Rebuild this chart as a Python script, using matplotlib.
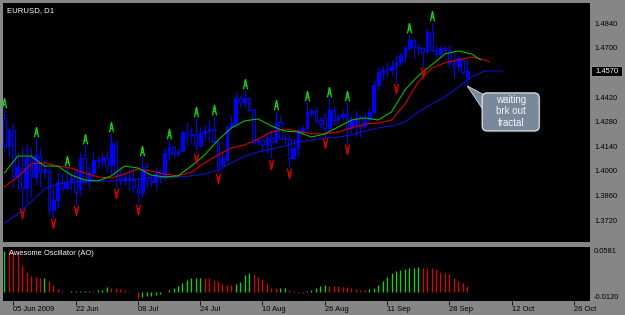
import numpy as np
import matplotlib.pyplot as plt
from matplotlib.path import Path
from matplotlib.markers import MarkerStyle
from matplotlib.patches import FancyBboxPatch, Polygon, Rectangle
from matplotlib.transforms import offset_copy, blended_transform_factory, IdentityTransform

plt.rcParams['font.family'] = ['Liberation Sans', 'DejaVu Sans']

# EURUSD daily bars, 03 Jun 2009 .. 02 Oct 2009 (Sunday bars included)
opens = [1.4302, 1.4142, 1.4233, 1.3972, 1.4017, 1.3903, 1.4080, 1.3966, 1.4091, 1.3994,
         1.4006, 1.3778, 1.3835, 1.3937, 1.3903, 1.3937, 1.3994, 1.3892, 1.4074, 1.3937,
         1.3989, 1.4063, 1.4057, 1.4074, 1.4034, 1.4148, 1.3977, 1.3949, 1.3966, 1.3949,
         1.3909, 1.3875, 1.4006, 1.3949, 1.3937, 1.3989, 1.3972, 1.4097, 1.4137, 1.4097,
         1.4114, 1.4222, 1.4205, 1.4211, 1.4148, 1.4216, 1.4227, 1.4239, 1.4165, 1.4034,
         1.4063, 1.4250, 1.4273, 1.4415, 1.4393, 1.4415, 1.4347, 1.4165, 1.4176, 1.4148,
         1.4193, 1.4165, 1.4279, 1.4188, 1.4182, 1.4074, 1.4131, 1.4222, 1.4245, 1.4330,
         1.4347, 1.4290, 1.4302, 1.4245, 1.4347, 1.4290, 1.4307, 1.4330, 1.4245, 1.4262,
         1.4307, 1.4256, 1.4296, 1.4336, 1.4489, 1.4563, 1.4586, 1.4575, 1.4592, 1.4620,
         1.4654, 1.4700, 1.4745, 1.4706, 1.4700, 1.4677, 1.4791, 1.4689, 1.4666, 1.4700,
         1.4689, 1.4615, 1.4597, 1.4632, 1.4535]
highs = [1.4358, 1.4245, 1.4273, 1.4102, 1.4137, 1.4159, 1.4137, 1.4188, 1.4131, 1.4063,
         1.4023, 1.3909, 1.3994, 1.3989, 1.4023, 1.3994, 1.4006, 1.4108, 1.4148, 1.4034,
         1.4108, 1.4091, 1.4102, 1.4120, 1.4216, 1.4176, 1.4023, 1.3994, 1.4006, 1.4023,
         1.3960, 1.4080, 1.4046, 1.3977, 1.4023, 1.4006, 1.4137, 1.4176, 1.4148, 1.4131,
         1.4233, 1.4279, 1.4250, 1.4302, 1.4250, 1.4262, 1.4290, 1.4313, 1.4176, 1.4120,
         1.4262, 1.4319, 1.4444, 1.4432, 1.4461, 1.4421, 1.4358, 1.4193, 1.4193, 1.4216,
         1.4233, 1.4341, 1.4319, 1.4205, 1.4205, 1.4188, 1.4245, 1.4262, 1.4393, 1.4358,
         1.4364, 1.4307, 1.4336, 1.4415, 1.4370, 1.4330, 1.4347, 1.4393, 1.4319, 1.4347,
         1.4319, 1.4330, 1.4358, 1.4518, 1.4592, 1.4603, 1.4620, 1.4632, 1.4660, 1.4677,
         1.4717, 1.4780, 1.4757, 1.4728, 1.4706, 1.4814, 1.4848, 1.4717, 1.4717, 1.4717,
         1.4717, 1.4671, 1.4660, 1.4649, 1.4632]
lows = [1.4108, 1.4080, 1.3909, 1.3892, 1.3790, 1.3812, 1.3852, 1.3920, 1.3909, 1.3960,
        1.3750, 1.3733, 1.3790, 1.3875, 1.3892, 1.3892, 1.3807, 1.3864, 1.3920, 1.3903,
        1.3949, 1.4017, 1.4023, 1.3994, 1.3977, 1.3909, 1.3920, 1.3920, 1.3892, 1.3875,
        1.3818, 1.3852, 1.3909, 1.3909, 1.3892, 1.3932, 1.3949, 1.4063, 1.4074, 1.4085,
        1.4108, 1.4148, 1.4159, 1.4108, 1.4137, 1.4176, 1.4165, 1.4159, 1.3989, 1.4017,
        1.4051, 1.4233, 1.4250, 1.4364, 1.4358, 1.4336, 1.4154, 1.4148, 1.4108, 1.4102,
        1.4074, 1.4159, 1.4176, 1.4159, 1.4023, 1.4063, 1.4080, 1.4211, 1.4233, 1.4313,
        1.4273, 1.4245, 1.4188, 1.4216, 1.4262, 1.4279, 1.4290, 1.4159, 1.4216, 1.4193,
        1.4193, 1.4245, 1.4279, 1.4319, 1.4461, 1.4518, 1.4535, 1.4546, 1.4501, 1.4603,
        1.4620, 1.4689, 1.4643, 1.4660, 1.4592, 1.4671, 1.4677, 1.4643, 1.4643, 1.4671,
        1.4586, 1.4529, 1.4563, 1.4546, 1.4484]
closes = [1.4142, 1.4233, 1.3972, 1.4023, 1.3903, 1.4080, 1.3966, 1.4091, 1.3994, 1.4011,
          1.3778, 1.3835, 1.3937, 1.3903, 1.3937, 1.3960, 1.3881, 1.4074, 1.3937, 1.3994,
          1.4063, 1.4057, 1.4074, 1.4034, 1.4159, 1.3977, 1.3949, 1.3966, 1.3949, 1.3909,
          1.3875, 1.4023, 1.3949, 1.3937, 1.3989, 1.3972, 1.4102, 1.4137, 1.4097, 1.4114,
          1.4222, 1.4205, 1.4211, 1.4148, 1.4216, 1.4227, 1.4239, 1.4165, 1.4023, 1.4074,
          1.4250, 1.4273, 1.4415, 1.4393, 1.4415, 1.4347, 1.4165, 1.4176, 1.4148, 1.4193,
          1.4165, 1.4279, 1.4188, 1.4182, 1.4074, 1.4131, 1.4233, 1.4245, 1.4336, 1.4341,
          1.4290, 1.4267, 1.4245, 1.4347, 1.4290, 1.4307, 1.4324, 1.4245, 1.4290, 1.4307,
          1.4256, 1.4296, 1.4336, 1.4489, 1.4563, 1.4575, 1.4575, 1.4597, 1.4620, 1.4660,
          1.4700, 1.4745, 1.4706, 1.4700, 1.4677, 1.4791, 1.4689, 1.4666, 1.4700, 1.4689,
          1.4615, 1.4586, 1.4643, 1.4563, 1.4570]

# Alligator lines, read every 3rd bar (shifted forward past the last bar)
jaw_bar = list(range(0, 112, 3)) + [112]
jaw = [1.3704, 1.3755, 1.3824, 1.3898, 1.3926, 1.3937, 1.3940, 1.3943, 1.3943, 1.3946,
       1.3955, 1.3960, 1.3963, 1.3966, 1.3972, 1.3983, 1.4006, 1.4046, 1.4085, 1.4108,
       1.4125, 1.4142, 1.4165, 1.4176, 1.4188, 1.4193, 1.4205, 1.4227, 1.4245, 1.4256,
       1.4279, 1.4336, 1.4381, 1.4421, 1.4478, 1.4535, 1.4569, 1.4569, 1.4569]
teeth_bar = list(range(0, 109, 3)) + [109]
teeth = [1.3909, 1.3966, 1.4040, 1.4046, 1.4028, 1.4017, 1.3989, 1.3966, 1.3960, 1.3983,
         1.4011, 1.4000, 1.3983, 1.3972, 1.3994, 1.4046, 1.4091, 1.4131, 1.4148, 1.4182,
         1.4222, 1.4239, 1.4227, 1.4211, 1.4211, 1.4222, 1.4245, 1.4267, 1.4273, 1.4290,
         1.4381, 1.4507, 1.4586, 1.4615, 1.4632, 1.4649, 1.4632, 1.4620]
lips_bar = list(range(0, 106, 3)) + [107]
lips = [1.3989, 1.4085, 1.4085, 1.4028, 1.4028, 1.3977, 1.3949, 1.3943, 1.3972, 1.4028,
        1.4017, 1.3977, 1.3966, 1.3972, 1.4028, 1.4091, 1.4176, 1.4245, 1.4285, 1.4296,
        1.4256, 1.4227, 1.4222, 1.4193, 1.4211, 1.4250, 1.4290, 1.4302, 1.4290, 1.4336,
        1.4461, 1.4541, 1.4603, 1.4666, 1.4683, 1.4666, 1.4632]

up_fractals = [0, 7, 14, 18, 24, 31, 37, 43, 47, 54, 61, 68, 73, 77, 91, 96]
down_fractals = [4, 11, 16, 25, 30, 43, 48, 60, 64, 72, 77, 88, 94]

ao = [0.0581, 0.0578, 0.0572, 0.0565, 0.0371, 0.0291, 0.0235, 0.0210, 0.0203, 0.0206,
      0.0159, 0.0103, 0.0047, 0.0019, 0.0009, 0.0011, 0.0013, 0.0019, 0.0021, 0.0023,
      0.0012, 0.0028, 0.0033, 0.0068, 0.0065, 0.0056, 0.0042, 0.0033, 0.0019, 0.0004,
      -0.0076, -0.0070, -0.0052, -0.0048, -0.0036, -0.0026, 0.0006, 0.0033, 0.0066, 0.0094,
      0.0136, 0.0174, 0.0197, 0.0199, 0.0206, 0.0204, 0.0197, 0.0174, 0.0159, 0.0113,
      0.0103, 0.0101, 0.0113, 0.0150, 0.0244, 0.0277, 0.0253, 0.0220, 0.0183, 0.0127,
      0.0066, 0.0056, 0.0058, 0.0060, 0.0033, 0.0019, -0.0008, -0.0012, 0.0019, 0.0033,
      0.0066, 0.0094, 0.0096, 0.0093, 0.0089, 0.0087, 0.0080, 0.0070, 0.0056, 0.0047,
      0.0033, 0.0031, 0.0042, 0.0066, 0.0103, 0.0159, 0.0220, 0.0277, 0.0305, 0.0314,
      0.0328, 0.0338, 0.0347, 0.0356, 0.0347, 0.0338, 0.0336, 0.0328, 0.0291, 0.0277,
      0.0253, 0.0197, 0.0159, 0.0127, 0.0094]

date_ticks = [2, 16, 30, 44, 58, 72, 86, 100, 114, 128]
date_labels = ['05 Jun 2009', '22 Jun', '08 Jul', '24 Jul', '10 Aug', '26 Aug',
               '11 Sep', '28 Sep', '12 Oct', '26 Oct']
price_ticks = [1.3720, 1.3860, 1.4000, 1.4140, 1.4280, 1.4420, 1.4700, 1.4840]
last_price = 1.4570

BLUE = '#0000ff'
GRAY = '#868686'
W, H = 625.0, 315.0

fig = plt.figure(figsize=(6.25, 3.15), dpi=100, facecolor=GRAY)
ax = fig.add_axes([3.3 / W, 1 - 242 / H, (590 - 3.3) / W, (242 - 3.3) / H], facecolor='black')
ao_ax = fig.add_axes([3.3 / W, 1 - 300.7 / H, (590 - 3.3) / W, (300.7 - 246.7) / H],
                     facecolor='black')

o = np.array(opens)
h = np.array(highs)
l = np.array(lows)
c = np.array(closes)
idx = np.arange(len(o))
bull = c >= o

# candles: filled = up, hollow = down
ax.vlines(idx, l, h, color=BLUE, lw=0.75, zorder=2)
body_lo = np.minimum(o, c)
body_h = np.maximum(np.abs(c - o), 0.0001)
ax.bar(idx, body_h, bottom=body_lo, width=0.6,
       color=[BLUE if b else 'black' for b in bull], edgecolor=BLUE, linewidth=0.7, zorder=3)

ax.plot(jaw_bar, jaw, color='#1010e0', lw=0.75, zorder=4)
ax.plot(teeth_bar, teeth, color='#e00000', lw=0.75, zorder=4)
ax.plot(lips_bar, lips, color='#00c800', lw=0.75, zorder=4)

# fractal arrows
up_path = Path([(-0.42, -1), (0, 1), (0.42, -1), (-0.24, -0.2), (0.24, -0.2), (0, 1), (0, 0.4)],
               [Path.MOVETO, Path.LINETO, Path.LINETO, Path.MOVETO, Path.LINETO,
                Path.MOVETO, Path.LINETO])
dn_path = Path([(x, -y) for x, y in up_path.vertices], up_path.codes)
up_tr = offset_copy(ax.transData, fig=fig, y=4.0, units='points')
dn_tr = offset_copy(ax.transData, fig=fig, y=-4.0, units='points')
ax.plot(up_fractals, h[up_fractals], ls='none', marker=MarkerStyle(up_path), ms=7,
        mfc='none', mec='#10dc10', mew=0.9, transform=up_tr, zorder=5, clip_on=False)
ax.plot(down_fractals, l[down_fractals], ls='none', marker=MarkerStyle(dn_path), ms=7,
        mfc='none', mec='#e00000', mew=0.9, transform=dn_tr, zorder=5)

ax.set_xlim(-0.25, 131.6)
ax.set_ylim(1.3596, 1.4954)
ax.set_xticks([])
ax.yaxis.tick_right()
ax.set_yticks(price_ticks)
ax.set_yticklabels(['%.4f' % p for p in price_ticks])
ax.tick_params(axis='y', length=0, pad=3, labelsize=5.4, labelcolor='black')
for s in ax.spines.values():
    s.set_visible(False)

# last price box on the scale
btr = blended_transform_factory(ax.transAxes, ax.transData)
ax.add_patch(Rectangle((1.0 + 1.0 / 586.7, last_price - 0.0029), 31 / 586.7, 0.0054,
                       transform=btr, fc='black', ec='#b0b0b0', lw=0.5, clip_on=False))
ax.text(1.0 + 16.5 / 586.7, last_price - 0.0002, '%.4f' % last_price, transform=btr,
        ha='center', va='center', fontsize=5.4, color='white', clip_on=False)

fig.text(7 / W, 1 - 10.5 / H, 'EURUSD, D1', color='white', fontsize=5.6, va='center')

# AO histogram
ao_arr = np.array(ao)
ao_col = ['#00e000' if i == 0 or ao_arr[i] > ao_arr[i - 1] else '#e00000' for i in idx]
ao_ax.vlines(idx, 0, ao_arr, colors=ao_col, lw=0.9)
ao_ax.set_xlim(-0.25, 131.6)
ao_ax.set_ylim(-0.0120, 0.0641)
ao_ax.yaxis.tick_right()
ao_ax.set_yticks([0.0581])
ao_ax.set_yticklabels(['0.0581'])
ao_ax.tick_params(axis='y', length=0, pad=3, labelsize=5.4, labelcolor='black')
ao_ax.text(1.0 + 4 / 586.7, -0.0118, '-0.0120', transform=blended_transform_factory(
    ao_ax.transAxes, ao_ax.transData), ha='left', va='bottom', fontsize=5.4, color='black')
ao_ax.set_xticks(date_ticks)
ao_ax.set_xticklabels(date_labels)
ao_ax.tick_params(axis='x', length=3, width=0.6, color='black', pad=0.5,
                  labelsize=5.4, labelcolor='black')
for t in ao_ax.get_xticklabels():
    t.set_ha('left')
for s in ao_ax.spines.values():
    s.set_visible(False)
ao_ax.text(6 / 586.7, 0.88, 'Awesome Oscillator (AO)', transform=ao_ax.transAxes,
           color='white', fontsize=5.4, va='center')

# callout pointing at the last bar
tx, ty = ax.transData.transform((len(o) - 1, l[-1]))
bx, by = tx + 15, ty - 45
shadow = FancyBboxPatch((bx + 2, by - 2), 57, 38, boxstyle='round,pad=0,rounding_size=5',
                        transform=IdentityTransform(), fc='#202020', ec='none', alpha=0.6)
fig.patches.append(shadow)
wedge = Polygon([(tx, ty), (tx + 17, ty - 9), (tx + 20, ty - 30)], closed=True,
                transform=IdentityTransform(), fc='#7a889c', ec='#d8dee6', lw=0.6)
fig.patches.append(wedge)
box = FancyBboxPatch((bx, by), 57, 38, boxstyle='round,pad=0,rounding_size=5',
                     transform=IdentityTransform(), fc='#7a889c', ec='#dfe5ec', lw=0.9)
fig.patches.append(box)
for k, line in enumerate(['waiting', 'brk out', 'fractal']):
    fig.text((bx + 28.5) / W, (by + 31 - k * 11.5) / H, line, ha='center', va='center',
             fontsize=7, color='#f4f6f8')

fig.savefig('out.png', dpi=100, facecolor=fig.get_facecolor())
